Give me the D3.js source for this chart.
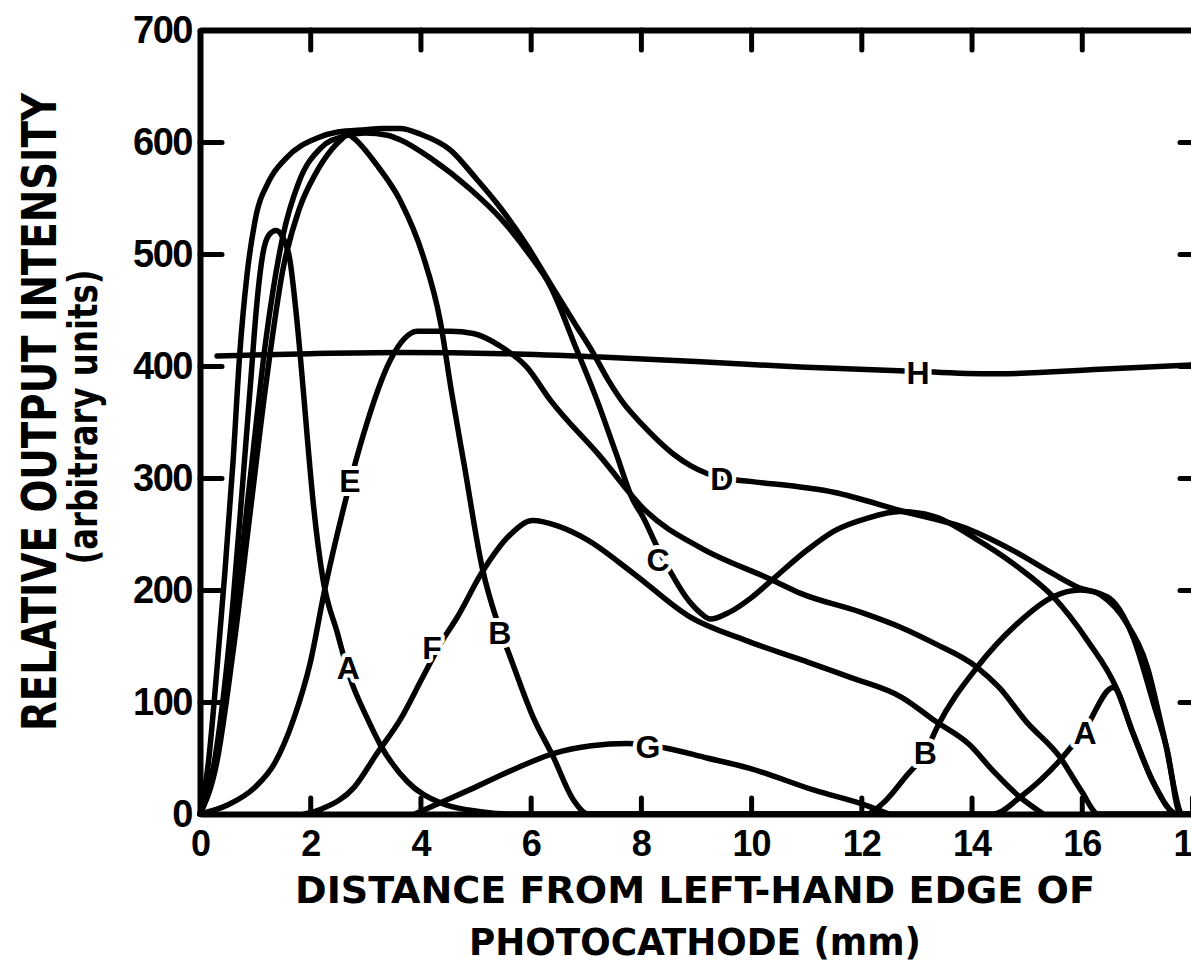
<!DOCTYPE html>
<html>
<head>
<meta charset="utf-8">
<script src="https://cdn.jsdelivr.net/npm/d3@7/dist/d3.min.js"></script>
<style>
  body { margin: 0; background: #fff; }
  svg { display: block; background: #fff; }
  .curve { fill: none; stroke: #000; stroke-width: 5.5; stroke-linejoin: round; stroke-linecap: round; }
  .axis .domain { stroke: #000; stroke-width: 6; }
  .axis line { stroke: #000; stroke-width: 5; stroke-linecap: round; }
  .axis text { font-family: "Liberation Sans", Arial, sans-serif; font-weight: bold; fill: #000; }
  .curve-label { font-family: "Liberation Sans", Arial, sans-serif; font-weight: bold; font-size: 32px;
    fill: #000; stroke: #fff; stroke-width: 8; paint-order: stroke fill; stroke-linejoin: round; }
  .title { font-family: "Liberation Sans Narrow", "DejaVu Sans Condensed", "Liberation Sans", sans-serif; font-weight: bold; fill: #000; }
</style>
</head>
<body>
<svg id="chart" width="1191" height="968"></svg>
<script>
// Ticks
const xTicks = [0, 2, 4, 6, 8, 10, 12, 14, 16, 18];
const yTicks = [0, 100, 200, 300, 400, 500, 600, 700];

// Curves: [distance mm, relative output]
const curveA = [[0,0],[0.2,30],[0.4,95],[0.6,190],[0.75,280],[0.91,380],[1.03,455],[1.14,500],[1.25,517],[1.38,521],[1.5,515],
  [1.63,495],[1.76,440],[1.88,375],[1.94,340],[2.05,280],[2.23,210],[2.49,162],[2.72,122],[3.03,86],[3.27,62],[3.76,29],
  [4.36,10],[5.1,2],[5.6,0],[14.4,0],[14.88,15],[15.64,50],[16.06,76],[16.57,113],[16.93,72],[17.3,28],[17.73,0],[18,0]];
const curveB = [[0,0],[0.3,45],[0.6,145],[0.9,265],[1.2,385],[1.5,485],[1.8,540],[2.1,572],[2.4,594],[2.58,603],[2.68,607],
  [2.8,603],[3.2,580],[3.63,548],[4.05,498],[4.36,440],[4.56,378],[4.8,310],[5.12,220],[5.44,165],[5.63,140],[6.04,87],
  [6.41,51],[6.77,13],[7.05,0],[12.1,0],[12.4,10],[12.8,33],[13.16,55],[13.38,78],[14.1,131],[14.83,170],[15.48,194],
  [15.97,200],[16.46,194],[16.93,158],[17.3,99],[17.55,57],[17.79,0],[18,0]];
const curveC = [[0,0],[0.3,55],[0.6,165],[0.9,295],[1.2,425],[1.5,515],[1.8,565],[2.2,595],[2.6,605],[3.0,608],[3.4,606],
  [3.63,602],[4.2,585],[4.9,558],[5.45,532],[6.0,498],[6.35,472],[6.84,414],[7.2,370],[7.55,322],[7.86,280],[8.04,265],
  [8.3,238],[8.55,215],[8.8,195],[9.07,180],[9.26,174],[9.6,180],[10.0,193],[10.38,209],[11.0,235],[11.52,253],[12.1,264],
  [12.7,270],[13.3,266],[14.1,245],[14.8,222],[15.48,194],[16.1,155],[16.64,111],[16.93,72],[17.3,28],[17.73,0],[18,0]];
const curveD = [[0,0],[0.15,45],[0.3,125],[0.45,215],[0.6,315],[0.72,410],[0.85,480],[1.0,530],[1.25,565],[1.55,585],
  [2.15,604],[2.5,609],[3.0,611],[3.3,612],[3.63,612],[4.0,607],[4.54,593],[5.0,568],[5.44,542],[5.9,510],[6.35,474],
  [6.8,438],[7.13,412],[7.4,388],[7.68,367],[8.0,349],[8.3,334],[8.6,321],[8.9,311],[9.2,304],[9.47,300],[9.98,297],
  [11.52,287],[12.7,271],[13.96,254],[14.8,234],[15.46,215],[15.95,202],[16.33,196],[16.82,170],[17.19,131],[17.48,72],
  [17.84,0],[18,0]];
const curveE = [[0,0],[0.5,8],[1.0,24],[1.35,45],[1.7,85],[2.0,135],[2.27,202],[2.6,272],[2.96,338],[3.45,405],[3.7,424],
  [3.94,431],[4.54,431],[4.96,429],[5.44,418],[5.93,399],[6.35,370],[7.25,320],[8.1,270],[9.07,238],[10.38,209],
  [10.9,197],[12.0,180],[12.7,167],[13.3,153],[14.1,131],[14.5,113],[15.0,82],[15.6,51],[16.0,20],[16.3,0],[18,0]];
const curveF = [[1.9,0],[2.23,5],[2.8,24],[3.21,54],[3.63,84],[4.05,123],[4.4,155],[4.66,175],[5.12,216],[5.6,248],
  [6.04,262],[6.5,257],[7.02,245],[7.86,215],[8.89,176],[9.9,155],[10.89,138],[11.8,122],[12.74,104],[13.34,83],
  [13.96,62],[14.4,38],[14.88,15],[15.3,0]];
const curveG = [[3.9,0],[4.36,10],[5.0,24],[5.7,40],[6.41,54],[7.1,61],[7.75,63],[8.44,59],[9.2,50],[9.96,41],[11.16,21],
  [12.07,8],[12.5,0]];
const curveH = [[0.31,409],[2,411],[3.63,412],[5.5,411],[7.26,408],[9,404],[10.89,399],[13.04,395],[14.5,393],
  [16.33,397],[18,401]];

const series = [
  { name: "A", values: curveA }, { name: "B", values: curveB }, { name: "C", values: curveC },
  { name: "D", values: curveD }, { name: "E", values: curveE }, { name: "F", values: curveF },
  { name: "G", values: curveG }, { name: "H", values: curveH }
];

// Where each letter sits on its curve: [letter, mm, value]
const curveLabels = [["E",2.72,298],["A",2.69,131],["F",4.21,149],["B",5.44,162],["G",8.13,60],["C",8.31,227],
  ["D",9.47,300],["H",13.03,394],["B",13.16,55],["A",16.06,73]];

const svg = d3.select("#chart");

const x = d3.scaleLinear().domain([0, 18]).range([200, 1192]);
const y = d3.scaleLinear().domain([0, 700]).range([814, 30]);

const line = d3.line()
  .x(d => x(d[0]))
  .y(d => y(d[1]))
  .curve(d3.curveMonotoneX);

// Curves
svg.append("g")
  .selectAll("path")
  .data(series)
  .join("path")
  .attr("class", "curve")
  .attr("d", d => line(d.values));

// Letters on the curves, with a white gap around them
svg.append("g")
  .selectAll("text")
  .data(curveLabels)
  .join("text")
  .attr("class", "curve-label")
  .attr("x", d => x(d[1]))
  .attr("y", d => y(d[2]))
  .attr("text-anchor", "middle")
  .attr("dy", "0.36em")
  .text(d => d[0]);

// Axes, ticks pointing inward
const xAxis = svg.append("g")
  .attr("class", "axis")
  .attr("transform", `translate(0, ${y(0)})`)
  .call(d3.axisBottom(x).tickValues(xTicks).tickSizeInner(-16).tickSizeOuter(0).tickPadding(16));
xAxis.selectAll("text").attr("font-size", 36).attr("letter-spacing", -1);

const yAxis = svg.append("g")
  .attr("class", "axis")
  .attr("transform", `translate(${x(0)}, 0)`)
  .call(d3.axisLeft(y).tickValues(yTicks).tickSizeInner(-22).tickSizeOuter(0).tickPadding(8));
yAxis.selectAll("text").attr("font-size", 38).attr("letter-spacing", -1.5);

svg.append("g")
  .attr("class", "axis")
  .attr("transform", `translate(0, ${y(700)})`)
  .call(d3.axisTop(x).tickValues(xTicks.slice(1, -1)).tickSizeInner(-20).tickSizeOuter(0).tickFormat(""));

svg.append("g")
  .attr("class", "axis")
  .attr("transform", `translate(${x(18) + 2}, 0)`)
  .call(d3.axisRight(y).tickValues(yTicks.slice(1, -1)).tickSizeInner(-14).tickSizeOuter(0).tickFormat(""));

// Axis titles
svg.append("text")
  .attr("class", "title")
  .attr("x", 695).attr("y", 903)
  .attr("text-anchor", "middle")
  .attr("font-size", 37)
  .attr("textLength", 800).attr("lengthAdjust", "spacingAndGlyphs")
  .text("DISTANCE FROM LEFT-HAND EDGE OF");

svg.append("text")
  .attr("class", "title")
  .attr("x", 695).attr("y", 955)
  .attr("text-anchor", "middle")
  .attr("font-size", 37)
  .attr("textLength", 452).attr("lengthAdjust", "spacingAndGlyphs")
  .text("PHOTOCATHODE (mm)");

svg.append("text")
  .attr("class", "title")
  .attr("transform", "translate(56, 412) rotate(-90)")
  .attr("text-anchor", "middle")
  .attr("font-size", 48)
  .attr("textLength", 638).attr("lengthAdjust", "spacingAndGlyphs")
  .text("RELATIVE OUTPUT INTENSITY");

svg.append("text")
  .attr("class", "title")
  .attr("transform", "translate(97, 417) rotate(-90)")
  .attr("text-anchor", "middle")
  .attr("font-size", 40)
  .attr("textLength", 295).attr("lengthAdjust", "spacingAndGlyphs")
  .text("(arbitrary units)");
</script>
</body>
</html>
